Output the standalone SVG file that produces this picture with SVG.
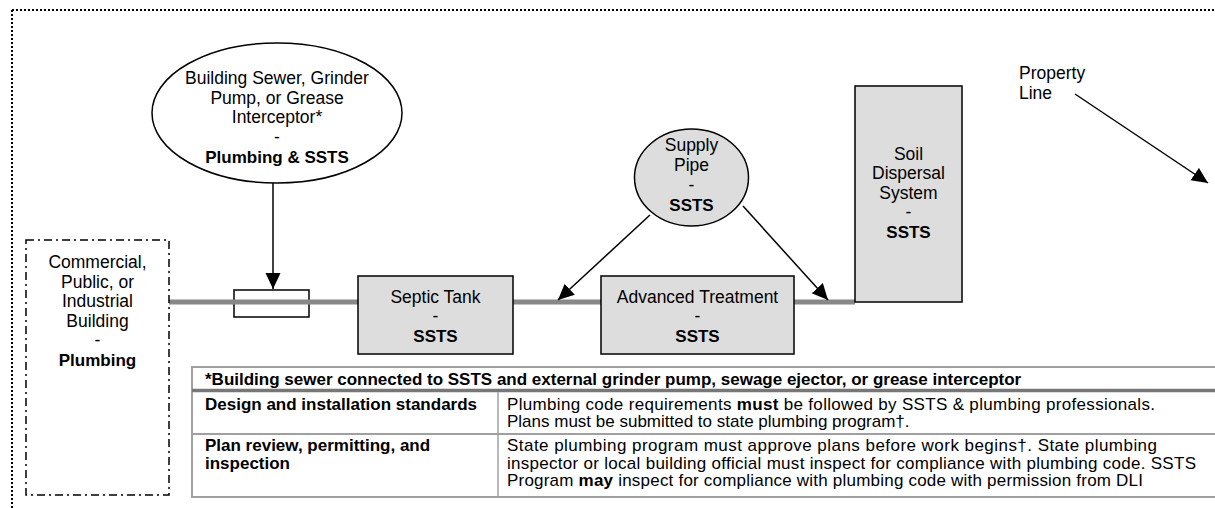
<svg xmlns="http://www.w3.org/2000/svg" width="1215" height="508" viewBox="0 0 1215 508">
<style>
text{font-family:"Liberation Sans",Arial,sans-serif;fill:#000}
.n{font-size:17.5px;text-anchor:middle}
.t{font-size:17px}
.b{font-weight:bold;font-size:17px}
.tb{font-weight:bold;font-size:17px}
.shape{stroke:#000;stroke-width:1.5}
.gray{fill:#dddddd}
.pipe{stroke:#888;stroke-width:5;fill:none}
.arr{stroke:#000;stroke-width:1.5;fill:none;marker-end:url(#ah)}
.tl{stroke:#a0a0a0;stroke-width:2;fill:none}
</style>
<defs>
<marker id="ah" markerUnits="userSpaceOnUse" markerWidth="18" markerHeight="16" refX="16" refY="7.5" orient="auto">
<path d="M0,0 L16,7.5 L0,15 z" fill="#000"/>
</marker>
</defs>
<rect width="1215" height="508" fill="#fff"/>
<g id="property-border">
<path d="M12,10 H1215 M12,10 V508" stroke="#000" stroke-width="2" stroke-dasharray="2,2" fill="none"/>
</g>
<g id="pipes">
<rect x="234" y="290" width="75" height="27" fill="#fff" class="shape"/>
<line x1="169" y1="302" x2="358" y2="302" class="pipe"/>
<line x1="513" y1="302" x2="601" y2="302" class="pipe"/>
<line x1="794" y1="302" x2="855" y2="302" class="pipe"/>
</g>
<g id="building">
<rect x="26" y="240" width="143" height="255" fill="#fff" stroke="#000" stroke-width="1.5" stroke-dasharray="8,4,2,4"/>
<text class="n" x="97.5" y="268">Commercial,</text>
<text class="n" x="97.5" y="287.5">Public, or</text>
<text class="n" x="97.5" y="307">Industrial</text>
<text class="n" x="97.5" y="326.5">Building</text>
<text class="n" x="97.5" y="346">-</text>
<text class="n b" x="97.5" y="365.5">Plumbing</text>
</g>
<g id="building-sewer">
<ellipse cx="277" cy="113" rx="125" ry="70" fill="#fff" class="shape"/>
<text class="n" x="277" y="84">Building Sewer, Grinder</text>
<text class="n" x="277" y="103.5">Pump, or Grease</text>
<text class="n" x="277" y="123">Interceptor*</text>
<text class="n" x="277" y="142.5">-</text>
<text class="n b" x="277" y="162.5">Plumbing &amp; SSTS</text>
</g>
<g id="septic-tank">
<rect x="358" y="276" width="155" height="78" class="shape gray"/>
<text class="n" x="435.5" y="303">Septic Tank</text>
<text class="n" x="435.5" y="322">-</text>
<text class="n b" x="435.5" y="341.5">SSTS</text>
</g>
<g id="advanced-treatment">
<rect x="601" y="276" width="193" height="78" class="shape gray"/>
<text class="n" x="697.5" y="303">Advanced Treatment</text>
<text class="n" x="697.5" y="322">-</text>
<text class="n b" x="697.5" y="341.5">SSTS</text>
</g>
<g id="supply-pipe">
<ellipse cx="691.5" cy="177.5" rx="57" ry="48.5" class="shape gray"/>
<text class="n" x="691.5" y="150.5">Supply</text>
<text class="n" x="691.5" y="170.5">Pipe</text>
<text class="n" x="691.5" y="190.5">-</text>
<text class="n b" x="691.5" y="211">SSTS</text>
</g>
<g id="soil-dispersal">
<rect x="855" y="86" width="107" height="216" class="shape gray"/>
<text class="n" x="908.5" y="159.5">Soil</text>
<text class="n" x="908.5" y="179">Dispersal</text>
<text class="n" x="908.5" y="198.5">System</text>
<text class="n" x="908.5" y="218">-</text>
<text class="n b" x="908.5" y="238">SSTS</text>
</g>
<g id="property-line-label">
<text x="1019" y="78.5" style="font-size:17.5px">Property</text>
<text x="1019" y="98.5" style="font-size:17.5px">Line</text>
</g>
<g id="connectors">
<line x1="273" y1="183" x2="273" y2="289" class="arr"/>
<line x1="650" y1="215" x2="558" y2="300" class="arr"/>
<line x1="743" y1="206" x2="828" y2="300" class="arr"/>
<line x1="1075" y1="94" x2="1208" y2="183" class="arr"/>
</g>
<g id="table">
<rect x="192" y="367" width="1030" height="130" fill="#fff" class="tl"/>
<line x1="192" y1="390.5" x2="1215" y2="390.5" stroke="#777" stroke-width="3.5"/>
<line x1="192" y1="434" x2="1215" y2="434" class="tl"/>
<line x1="498" y1="392" x2="498" y2="497" stroke="#a0a0a0" stroke-width="1.5"/>
<text class="tb" x="205" y="384.5">*Building sewer connected to SSTS and external grinder pump, sewage ejector, or grease interceptor</text>
<text class="tb" x="205" y="409.5">Design and installation standards</text>
<text class="t" x="507" y="409.5" textLength="648" lengthAdjust="spacing">Plumbing code requirements <tspan class="tb">must</tspan> be followed by SSTS &amp; plumbing professionals.</text>
<text class="t" x="507" y="427">Plans must be submitted to state plumbing program†.</text>
<text class="tb" x="205" y="451">Plan review, permitting, and</text>
<text class="tb" x="205" y="468.5">inspection</text>
<text class="t" x="507" y="451" textLength="650" lengthAdjust="spacing">State plumbing program must approve plans before work begins†. State plumbing</text>
<text class="t" x="507" y="468.5" textLength="689" lengthAdjust="spacing">inspector or local building official must inspect for compliance with plumbing code. SSTS</text>
<text class="t" x="507" y="486" textLength="636" lengthAdjust="spacing">Program <tspan class="tb">may</tspan> inspect for compliance with plumbing code with permission from DLI</text>
</g>
</svg>
